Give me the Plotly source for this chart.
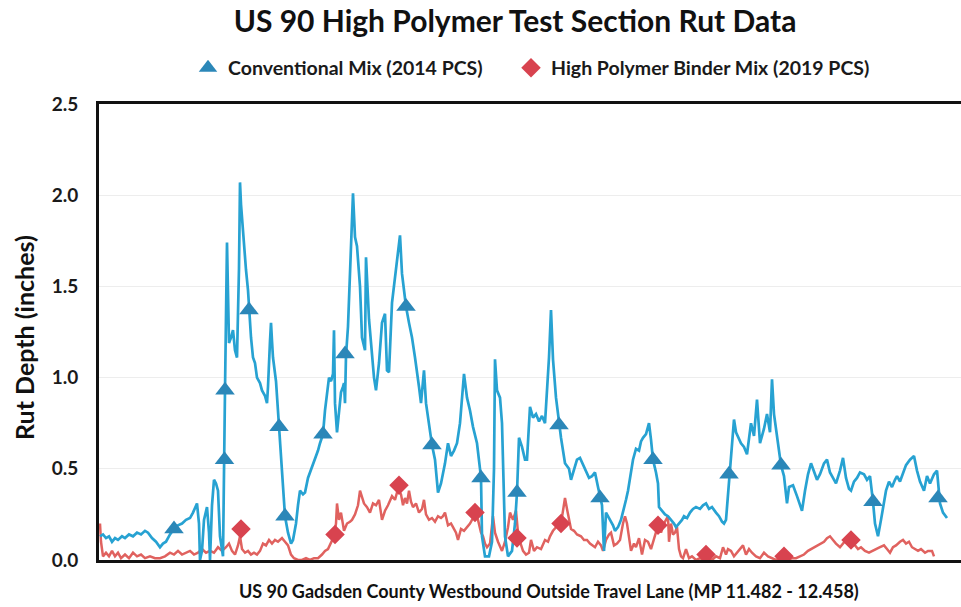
import plotly.graph_objects as go

# ---- Conventional Mix (2014 PCS): position along section (relative units) and rut depth (in) ----
blue_pos = [0, 3, 6, 9, 12, 15, 18, 22, 25, 29, 33, 37, 41, 45, 48, 52, 56, 60, 63, 66,
            70, 74, 78, 82, 86, 90, 93, 97, 99, 100, 102, 104, 107, 109, 110, 112, 114, 116, 118, 120,
            123, 124.5, 125, 127, 128, 129, 131, 133, 135, 137, 139, 140, 141, 143, 145, 146, 148, 149, 151, 153,
            155, 157, 160, 162, 165, 167, 168, 170, 171, 172, 173, 176, 179, 182, 185, 188, 191, 193, 196, 198,
            200, 203, 205, 208, 210, 213, 215, 218, 220, 223, 225, 227, 229, 231, 233, 234, 235, 237, 239, 241,
            243, 244, 245, 246, 248, 250, 252, 253, 255, 257, 260, 262, 265, 266, 269, 272, 274, 276, 279, 282,
            285, 287, 289, 292, 295, 297, 299, 300, 302, 304, 306, 309, 312, 315, 317, 319, 321, 322, 324, 326,
            329, 332, 335, 338, 341, 345, 348, 351, 354, 357, 360, 362, 364, 367, 370, 373, 377, 380, 381, 382,
            385, 389, 392, 394, 395, 397, 400, 402, 405, 408, 412, 415, 417, 419, 422, 425, 427, 430, 433, 436,
            439, 442, 445, 447, 449, 451, 453, 456, 459, 461, 465, 469, 471, 474, 477, 480, 483, 486, 489, 492,
            495, 498, 500, 502, 504, 506, 510, 513, 515, 518, 521, 523, 526, 528, 531, 533, 536, 539, 541, 543,
            546, 549, 551, 553, 556, 558, 559, 562, 565, 568, 571, 574, 576, 579, 582, 584, 587, 590, 593, 596,
            600, 603, 606, 609, 612, 616, 619, 622, 624, 626, 628, 629, 631, 634, 636, 639, 641, 644, 647, 651,
            654, 657, 660, 664, 667, 670, 672, 674, 677, 679, 681, 684, 687, 689, 693, 697, 700, 702, 705, 708,
            711, 714, 717, 720, 724, 727, 730, 733, 736, 740, 743, 746, 749, 751, 754, 757, 760, 764, 767, 770,
            772, 773, 775, 778, 781, 784, 786, 789, 792, 795, 797, 800, 803, 806, 810, 814, 817, 820, 824, 827,
            830, 834, 837, 839, 840, 843, 847]
blue_depth = [0.13, 0.14, 0.12, 0.13, 0.10, 0.12, 0.11, 0.13, 0.12, 0.14, 0.13, 0.15, 0.14, 0.16, 0.15, 0.12, 0.10, 0.07, 0.09, 0.10,
              0.14, 0.17, 0.19, 0.20, 0.22, 0.23, 0.26, 0.31, 0.20, 0.00, 0.05, 0.22, 0.29, 0.15, 0.00, 0.30, 0.44, 0.42, 0.38, 0.13,
              0.02, 0.55, 0.93, 1.74, 1.35, 1.19, 1.22, 1.26, 1.15, 1.11, 1.60, 2.07, 1.95, 1.81, 1.62, 1.59, 1.48, 1.37, 1.22, 1.11,
              1.08, 1.00, 0.97, 0.93, 0.90, 0.86, 0.95, 1.20, 1.30, 1.20, 1.11, 0.98, 0.73, 0.48, 0.24, 0.15, 0.09, 0.11, 0.20, 0.30,
              0.38, 0.36, 0.37, 0.45, 0.48, 0.52, 0.56, 0.60, 0.64, 0.69, 0.82, 0.92, 1.00, 0.98, 1.02, 1.26, 0.86, 0.70, 0.82, 0.92,
              0.95, 0.97, 0.86, 1.12, 1.28, 1.59, 1.80, 2.01, 1.77, 1.72, 1.50, 1.22, 1.15, 1.66, 1.32, 1.11, 1.00, 0.93, 1.08, 1.30,
              1.35, 1.04, 1.03, 1.41, 1.55, 1.62, 1.72, 1.78, 1.57, 1.48, 1.39, 1.30, 1.22, 1.11, 1.04, 0.95, 0.86, 0.92, 1.04, 0.86,
              0.75, 0.63, 0.55, 0.37, 0.42, 0.53, 0.64, 0.57, 0.60, 0.64, 0.75, 0.88, 1.02, 0.89, 0.82, 0.73, 0.64, 0.50, 0.45, 0.13,
              0.02, 0.02, 0.10, 0.50, 1.10, 0.93, 0.89, 0.75, 0.13, 0.02, 0.05, 0.20, 0.37, 0.67, 0.62, 0.55, 0.55, 0.84, 0.78, 0.80,
              0.76, 0.79, 0.75, 0.93, 1.11, 1.37, 1.10, 0.89, 0.74, 0.67, 0.53, 0.50, 0.44, 0.49, 0.55, 0.56, 0.52, 0.49, 0.45, 0.46,
              0.48, 0.40, 0.34, 0.30, 0.05, 0.26, 0.22, 0.19, 0.16, 0.18, 0.22, 0.26, 0.33, 0.38, 0.47, 0.55, 0.61, 0.60, 0.65, 0.67,
              0.69, 0.75, 0.66, 0.55, 0.48, 0.42, 0.29, 0.27, 0.25, 0.24, 0.22, 0.20, 0.18, 0.20, 0.22, 0.24, 0.23, 0.26, 0.28, 0.29,
              0.28, 0.30, 0.31, 0.28, 0.29, 0.26, 0.24, 0.21, 0.20, 0.22, 0.36, 0.47, 0.58, 0.77, 0.70, 0.66, 0.64, 0.62, 0.58, 0.75,
              0.68, 0.88, 0.64, 0.72, 0.80, 0.70, 0.99, 0.80, 0.67, 0.60, 0.52, 0.46, 0.31, 0.40, 0.41, 0.35, 0.30, 0.27, 0.38, 0.47,
              0.53, 0.49, 0.44, 0.47, 0.53, 0.55, 0.48, 0.45, 0.42, 0.49, 0.56, 0.45, 0.39, 0.38, 0.43, 0.45, 0.48, 0.47, 0.44, 0.46,
              0.38, 0.32, 0.20, 0.13, 0.22, 0.32, 0.38, 0.43, 0.40, 0.44, 0.46, 0.43, 0.47, 0.52, 0.55, 0.57, 0.49, 0.43, 0.38, 0.46,
              0.42, 0.47, 0.49, 0.38, 0.31, 0.26, 0.23]

# marker positions of the conventional-mix series
blue_mark_pos = [74, 124.5, 125, 149, 179, 185, 223, 245, 306, 332, 381, 417, 459, 500, 553, 629, 681, 773, 838]
blue_mark_depth = [0.17, 0.55, 0.93, 1.37, 0.73, 0.24, 0.69, 1.13, 1.39, 0.63, 0.45, 0.37, 0.74, 0.34, 0.55, 0.47, 0.52, 0.32, 0.34]

# ---- High Polymer Binder Mix (2019 PCS) ----
red_pos = [0, 1, 3, 6, 9, 12, 15, 18, 21, 25, 29, 33, 37, 41, 45, 50, 55, 60, 65, 70,
           74, 78, 82, 86, 90, 94, 98, 102, 106, 110, 114, 118, 122, 126, 129, 132, 135, 138, 140, 142,
           145, 148, 151, 154, 157, 160, 163, 166, 169, 172, 175, 178, 182, 185, 188, 191, 194, 198, 202, 206,
           210, 214, 218, 222, 225, 228, 231, 234, 236, 237, 239, 241, 244, 247, 250, 252, 255, 258, 260, 262,
           264, 267, 270, 273, 276, 279, 282, 285, 288, 292, 295, 298, 301, 303, 305, 307, 309, 311, 313, 316,
           319, 322, 324, 326, 329, 332, 335, 338, 341, 343, 345, 348, 351, 353, 356, 358, 361, 364, 367, 370,
           373, 375, 378, 381, 383, 385, 387, 390, 393, 395, 398, 402, 405, 408, 410, 413, 416, 418, 420, 423,
           426, 429, 431, 434, 437, 441, 445, 448, 450, 453, 456, 459, 461, 463, 465, 467, 469, 471, 474, 477,
           481, 484, 487, 490, 495, 498, 501, 503, 506, 509, 511, 514, 517, 520, 523, 525, 527, 529, 531, 534,
           536, 539, 542, 545, 548, 551, 554, 556, 558, 561, 564, 566, 568, 569, 571, 573, 575, 577, 579, 581,
           583, 586, 589, 592, 596, 600, 604, 608, 612, 616, 620, 623, 626, 628, 631, 634, 637, 640, 643, 646,
           649, 652, 656, 660, 664, 668, 672, 676, 680, 684, 688, 692, 696, 700, 704, 708, 711, 715, 718, 721,
           724, 727, 730, 733, 736, 740, 743, 746, 749, 752, 755, 758, 761, 765, 769, 772, 776, 780, 784, 787,
           790, 793, 796, 800, 803, 806, 809, 812, 815, 818, 821, 825, 828, 832, 834]
red_depth = [0.20, 0.10, 0.02, 0.04, 0.02, 0.05, 0.02, 0.04, 0.01, 0.03, 0.01, 0.04, 0.02, 0.03, 0.01, 0.02, 0.01, 0.01, 0.02, 0.04,
             0.03, 0.05, 0.03, 0.04, 0.05, 0.03, 0.04, 0.06, 0.04, 0.05, 0.04, 0.07, 0.05, 0.07, 0.09, 0.05, 0.03, 0.08, 0.13, 0.06,
             0.04, 0.05, 0.03, 0.04, 0.03, 0.05, 0.09, 0.08, 0.11, 0.09, 0.11, 0.10, 0.12, 0.10, 0.08, 0.03, 0.01, 0.00, 0.00, 0.01,
             0.00, 0.01, 0.01, 0.03, 0.05, 0.06, 0.10, 0.13, 0.20, 0.31, 0.22, 0.26, 0.16, 0.20, 0.21, 0.22, 0.25, 0.30, 0.38, 0.35,
             0.31, 0.29, 0.26, 0.31, 0.30, 0.33, 0.22, 0.27, 0.30, 0.35, 0.33, 0.39, 0.36, 0.30, 0.34, 0.31, 0.38, 0.32, 0.29, 0.31,
             0.26, 0.28, 0.33, 0.25, 0.22, 0.23, 0.21, 0.24, 0.23, 0.24, 0.26, 0.19, 0.20, 0.18, 0.15, 0.11, 0.17, 0.16, 0.18, 0.20,
             0.23, 0.26, 0.22, 0.15, 0.13, 0.09, 0.07, 0.09, 0.24, 0.15, 0.10, 0.05, 0.10, 0.18, 0.26, 0.22, 0.27, 0.15, 0.10, 0.05,
             0.03, 0.04, 0.11, 0.05, 0.07, 0.06, 0.11, 0.10, 0.13, 0.16, 0.18, 0.20, 0.20, 0.28, 0.34, 0.28, 0.22, 0.17, 0.16, 0.14,
             0.13, 0.11, 0.11, 0.09, 0.07, 0.10, 0.08, 0.05, 0.11, 0.14, 0.15, 0.08, 0.09, 0.11, 0.20, 0.24, 0.20, 0.12, 0.05, 0.09,
             0.07, 0.12, 0.03, 0.11, 0.10, 0.06, 0.12, 0.16, 0.19, 0.15, 0.20, 0.22, 0.24, 0.10, 0.20, 0.14, 0.15, 0.18, 0.06, 0.02,
             0.01, 0.06, 0.01, 0.02, 0.00, 0.01, 0.00, 0.01, 0.00, 0.02, 0.01, 0.07, 0.03, 0.06, 0.05, 0.02, 0.04, 0.06, 0.08, 0.03,
             0.06, 0.04, 0.02, 0.01, 0.04, 0.02, 0.01, 0.00, 0.01, 0.01, 0.00, 0.01, 0.01, 0.02, 0.03, 0.05, 0.06, 0.07, 0.08, 0.09,
             0.10, 0.12, 0.13, 0.11, 0.09, 0.07, 0.09, 0.11, 0.10, 0.11, 0.08, 0.06, 0.07, 0.05, 0.04, 0.05, 0.06, 0.07, 0.08, 0.06,
             0.04, 0.07, 0.08, 0.10, 0.11, 0.09, 0.10, 0.07, 0.06, 0.05, 0.06, 0.04, 0.05, 0.05, 0.02]

red_mark_pos = [141, 235, 299, 375, 417, 461, 558, 606, 684, 751]
red_mark_depth = [0.17, 0.14, 0.41, 0.26, 0.12, 0.20, 0.19, 0.03, 0.02, 0.11]

y_ticks = [0.0, 0.5, 1.0, 1.5, 2.0, 2.5]
y_tick_text = ["0.0", "0.5", "1.0", "1.5", "2.0", "2.5"]

title_text = "US 90 High Polymer Test Section Rut Data"
y_title = "Rut Depth (inches)"
x_title = "US 90 Gadsden County Westbound Outside Travel Lane (MP 11.482 - 12.458)"
blue_name = "Conventional Mix (2014 PCS)"
red_name = "High Polymer Binder Mix (2019 PCS)"

BLUE_LINE = "#27a2d2"
BLUE_MARK = "#2b87b8"
RED_LINE = "#e0625f"
RED_MARK = "#d8434f"
FONT = "Lato"

fig = go.Figure()
fig.add_trace(go.Scatter(x=red_pos, y=red_depth, mode="lines",
                         line=dict(color=RED_LINE, width=2.5), showlegend=False, hoverinfo="skip"))
fig.add_trace(go.Scatter(x=blue_pos, y=blue_depth, mode="lines",
                         line=dict(color=BLUE_LINE, width=2.7), showlegend=False, hoverinfo="skip"))
fig.add_trace(go.Scatter(x=blue_mark_pos, y=blue_mark_depth, mode="markers", name=blue_name,
                         marker=dict(symbol="triangle-up", size=17, color=BLUE_MARK), legend="legend"))
fig.add_trace(go.Scatter(x=red_mark_pos, y=red_mark_depth, mode="markers", name=red_name,
                         marker=dict(symbol="diamond", size=15, color=RED_MARK), legend="legend2"))

legend_font = dict(family=FONT, size=19.5, color="#1a1a1a", weight="bold")
fig.update_layout(
    width=961, height=607,
    margin=dict(l=99, r=0, t=104, b=47),
    paper_bgcolor="white", plot_bgcolor="white",
    font=dict(family=FONT, color="#111111"),
    title=dict(text=title_text, x=515 / 961, xanchor="center", y=1 - 21 / 607, yanchor="middle",
               font=dict(family=FONT, size=30, color="#111111", weight="bold")),
    legend=dict(orientation="h", xref="container", yref="container",
                x=188 / 961, xanchor="left", y=1 - 68 / 607, yanchor="middle",
                font=legend_font, itemclick=False, bgcolor="rgba(0,0,0,0)"),
    legend2=dict(orientation="h", xref="container", yref="container",
                 x=511 / 961, xanchor="left", y=1 - 68 / 607, yanchor="middle",
                 font=legend_font, itemclick=False, bgcolor="rgba(0,0,0,0)"),
    xaxis=dict(range=[-1, 861], showgrid=False, zeroline=False, showticklabels=False, ticks="",
               showline=True, linecolor="#111111", linewidth=3, mirror=True, fixedrange=True),
    yaxis=dict(range=[0, 2.5], tickvals=y_ticks, ticktext=y_tick_text, showgrid=True,
               gridcolor="#ededed", gridwidth=1, zeroline=False, showline=True, linecolor="#111111",
               linewidth=3, mirror=False, ticks="", ticklabelstandoff=14,
               tickfont=dict(family=FONT, size=19, color="#1a1a1a", weight="bold"), fixedrange=True),
    annotations=[
        dict(text=y_title, xref="paper", yref="paper", x=-75 / 862, y=0.5 - 6 / 456, textangle=-90,
             showarrow=False, xanchor="center", yanchor="middle",
             font=dict(family=FONT, size=25, color="#111111", weight="bold")),
        dict(text=x_title, xref="paper", yref="paper", x=(549 - 99) / 862, y=-31 / 456,
             showarrow=False, xanchor="center", yanchor="middle",
             font=dict(family=FONT, size=18, color="#111111", weight="bold")),
    ],
)

fig.write_html("out.html", config={"displayModeBar": False},
               post_script="document.body.style.margin='0';")
